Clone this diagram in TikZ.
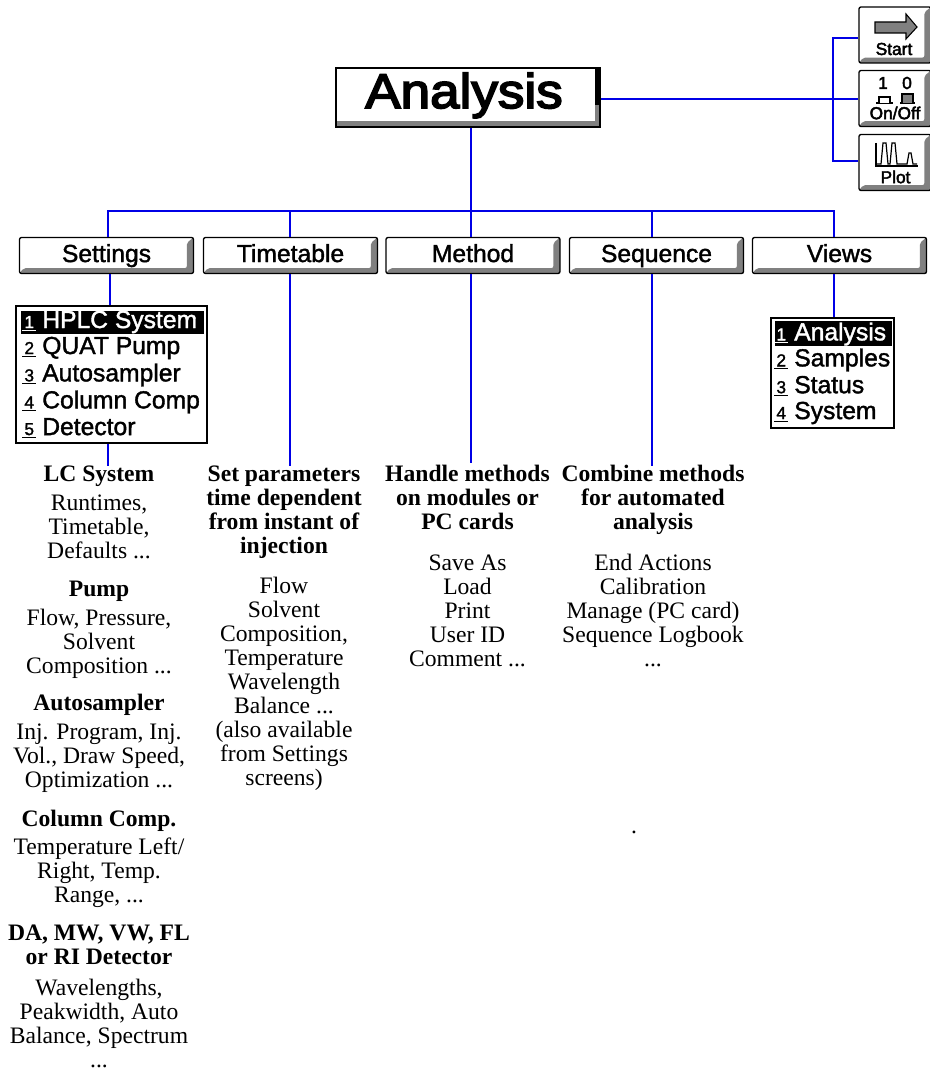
\documentclass[tikz,border=0pt]{standalone}
\usepackage{fontspec}
\setmainfont{Liberation Serif}
\newfontfamily\scr[FakeBold=1.5]{Liberation Sans}
\newfontfamily\scrt[FakeBold=2.5]{Liberation Sans}
\newfontfamily\scrb[FakeBold=3.5,FakeStretch=1.09]{Liberation Sans}
\newcommand{\bodyf}{\fontsize{17.7}{18}\selectfont}
\newcommand{\rowtxt}[2]{\makebox[15pt][l]{\fontsize{13}{13}\selectfont\underline{\makebox[10.5pt]{#1}}}\fontsize{18.5}{18}\selectfont #2}
\tikzset{
  link/.style={draw={rgb,255:red,0;green,0;blue,230},line width=1.5pt},
  shade strip/.style={path picture={\fill[black!50] (path picture bounding box.south west) -- ([xshift=3pt,yshift=4pt]path picture bounding box.south west) -- ([xshift=-5pt,yshift=4pt]path picture bounding box.south east) -- ([xshift=-5pt,yshift=-4pt]path picture bounding box.north east) -- (path picture bounding box.north east) -- (path picture bounding box.south east) -- cycle;}},
  btn/.style={draw=black,line width=1pt,rounded corners=1.5pt,fill=white,inner sep=0pt,
    minimum width=130.5pt,minimum height=27pt,text height=13pt,text depth=3.2pt,
    font=\scr\fontsize{18.5}{18}\selectfont,shade strip},
  tool/.style={btn,minimum width=54pt,minimum height=42pt},
  toollabel/.style={font=\scrt\fontsize{13}{14}\selectfont,inner sep=0pt},
  menu/.style={draw=black,line width=1.5pt,fill=white,inner sep=0pt},
  row/.style={anchor=west,inner sep=0pt,font=\scr},
  txt/.style={align=center,inner sep=0pt,font=\bodyf},
  head/.style={txt,font=\bodyf\bfseries},
}
\begin{document}
\begin{tikzpicture}[x=0.75pt,y=-0.75pt]
\useasboundingbox (0,0) rectangle (930,1069);
% Analysis title
\node[draw=black,line width=1.5pt,fill=white,minimum width=198pt,minimum height=44pt,inner sep=0pt,
  font=\scrb\fontsize{36.5}{36}\selectfont,
  path picture={\fill[black!50] (path picture bounding box.south west) rectangle ([yshift=4.5pt]path picture bounding box.south east);
    \fill[black] ([xshift=-4pt]path picture bounding box.north east) rectangle ([yshift=-6pt]path picture bounding box.east);
    \fill[black!50] ([xshift=-4pt,yshift=-6pt]path picture bounding box.east) rectangle (path picture bounding box.south east);}] (an) at (468,97.5)
  {\raisebox{-7.9pt}[0pt][0pt]{\makebox[0pt][c]{\hspace*{-6pt}Analysis}}};
% buttons
\node[btn] (set) at (106.5,255.5) {Settings};
\node[btn] (tim) at (290.5,255.5) {Timetable};
\node[btn] (met) at (473,255.5) {Method};
\node[btn] (seq) at (656.5,255.5) {Sequence};
\node[btn] (vie) at (839.5,255.5) {Views};
% tools
\node[tool] (start) at (895,35) {};
\node[tool] (onoff) at (895,98.5) {};
\node[tool] (plot) at (895,162.5) {};
\node[toollabel] (lstart) at (894,49) {Start};
\node[toollabel] (lonoff) at (895,113) {On/Off};
\node[toollabel] (lplot) at (895.5,177) {Plot};
\node[toollabel] (one) at (883,83) {1};
\node[toollabel] (zero) at (907,83) {0};
% icons
\draw[fill=black!50,line width=0.8pt] (875,22) -- (906,22) -- (906,14) -- (917,27) -- (906,39) -- (906,33) -- (875,33) -- cycle;
\draw[line width=1pt] (876,103) -- (893,103) (900,103) -- (915,103);
\draw[fill=white,line width=0.8pt] (879,103) -- (879,97) -- (890,97) -- (890,103);
\draw[fill=black!50,line width=0.8pt] (902,103) -- (902,94) -- (913,94) -- (913,103);
\draw[line width=1pt] (876,143) -- (876,166) -- (918,166);
\draw[line width=0.9pt] (877,164) -- (881,164) -- (883,143) -- (886,143) -- (888,164) -- (890,164) -- (892,143) -- (895,143) -- (897,164) -- (907,164) -- (909,153) -- (911,153) -- (913,164) -- (917,164);
% menus
\node[menu,minimum width=143pt,minimum height=103pt] (m1) at (111.5,374.5) {};
\fill[black] (21,311) rectangle (204,334);
\node[row,text=white] (m11) at (22,322) {\rowtxt{1}{HPLC System}};
\node[row] (m12) at (22,348) {\rowtxt{2}{QUAT Pump}};
\node[row] (m13) at (22,375) {\rowtxt{3}{Autosampler}};
\node[row] (m14) at (22,402) {\rowtxt{4}{Column Comp}};
\node[row] (m15) at (22,428) {\rowtxt{5}{Detector}};
\node[menu,minimum width=92pt,minimum height=83pt] (m2) at (832.5,373) {};
\fill[black] (775,321) rectangle (892,346);
\node[row,text=white] (m21) at (774,334) {\rowtxt{1}{Analysis}};
\node[row] (m22) at (774,360) {\rowtxt{2}{Samples}};
\node[row] (m23) at (774,386) {\rowtxt{3}{Status}};
\node[row] (m24) at (774,413) {\rowtxt{4}{System}};
% text
\node[head] (t1) at (99,476) {LC System};
\node[txt] (t2) at (99,527) {Runtimes,\\Timetable,\\Defaults ...};
\node[head] (t3) at (99,591) {Pump};
\node[txt] (t4) at (99,644) {Flow, Pressure,\\Solvent\\Composition ...};
\node[head] (t5) at (99,705) {Autosampler};
\node[txt] (t6) at (99,758) {Inj. Program, Inj.\\Vol., Draw Speed,\\Optimization ...};
\node[head] (t7) at (99,821) {Column Comp.};
\node[txt] (t8) at (99,873) {Temperature Left/\\Right, Temp.\\Range, ...};
\node[head] (t9) at (99,945) {DA, MW, VW, FL\\or RI Detector};
\node[txt] (t10) at (99,1023) {Wavelengths,\\Peakwidth, Auto\\Balance, Spectrum\\...};
\node[head] (u1) at (284,512) {Set parameters\\time dependent\\from instant of\\injection};
\node[txt] (u2) at (284,684) {Flow\\Solvent\\Composition,\\Temperature\\Wavelength\\Balance ...\\(also available\\from Settings\\screens)};
\node[head] (v1) at (467.5,497) {Handle methods\\on modules or\\PC cards};
\node[txt] (v2) at (467.5,611) {Save As\\Load\\Print\\User ID\\Comment ...};
\node[head] (w1) at (653,500) {Combine methods\\for automated\\analysis};
\node[txt] (w2) at (653,610) {End Actions\\Calibration\\Manage (PC card)\\Sequence Logbook\\...};
\node[txt] (dot) at (634,832) {.};
% connectors
\coordinate (hub) at (833,99);
\coordinate (bus) at (471,211);
\draw[link] (an.east |- hub) -- (onoff.west |- hub);
\draw[link] (start.west |- 0,38) -| (hub) |- (plot.west |- 0,161);
\draw[link] (an.south -| bus) -- (bus);
\draw[link] (set.north -| 108,0) |- (834,211) -- (vie.north -| 834,0);
\draw[link] (tim.north -| 290,0) -- (290,211);
\draw[link] (met.north -| bus) -- (bus);
\draw[link] (seq.north -| 652,0) -- (652,211);
\draw[link] (set.south -| 110,0) -- (m1.north -| 110,0);
\draw[link] (m1.south -| 108,0) -- (108,466);
\draw[link] (tim.south -| 290,0) -- (290,466);
\draw[link] (met.south -| 471,0) -- (471,463);
\draw[link] (seq.south -| 652,0) -- (652,466);
\draw[link] (vie.south -| 834,0) -- (m2.north -| 834,0);
\end{tikzpicture}
\end{document}
